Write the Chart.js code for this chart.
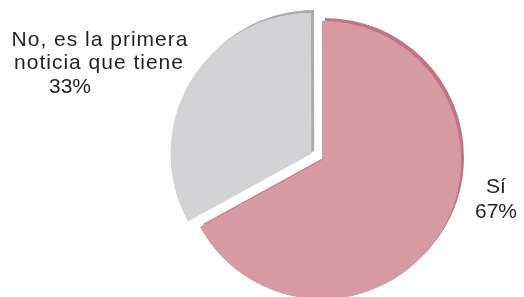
<!DOCTYPE html>
<html>
<head>
<meta charset="utf-8">
<script src="https://cdn.jsdelivr.net/npm/chart.js@4"></script>
<style>
  body { margin: 0; background: #fff; overflow: hidden; }
</style>
</head>
<body>
<canvas id="noticia" width="524" height="297"></canvas>
<script>
const categorias = ['Sí', 'No, es la primera noticia que tiene'];
const porcentajes = [67, 33];
// lineas de texto de cada etiqueta
const etiquetas = [['Sí', '67%'], ['No, es la primera', 'noticia que tiene', '33%']];
const colores = ['#d69ba2', '#d2d3d5'];
const bordes = ['#c27484', '#a9abae'];

// sombra oscura desplazada que imita el canto de la tarta
const cantoPlugin = {
    id: 'canto',
    beforeDatasetsDraw(chart) {
        const ctx = chart.ctx;
        chart.getDatasetMeta(0).data.forEach((arc, i) => {
            ctx.save();
            ctx.shadowColor = bordes[i];
            ctx.shadowOffsetX = 3;
            ctx.shadowOffsetY = -3;
            ctx.shadowBlur = 0;
            arc.draw(ctx);
            ctx.restore();
        });
    },
    afterDraw(chart) {
        const ctx = chart.ctx;
        const arc = chart.getDatasetMeta(0).data[0];
        const cx = arc.x, cy = arc.y;
        ctx.save();
        ctx.fillStyle = '#231f20';
        ctx.font = '21px "Liberation Sans", Arial, sans-serif';
        ctx.textAlign = 'center';
        ctx.textBaseline = 'alphabetic';
        // Sí
        ctx.fillText(etiquetas[0][0], cx + 174, cy + 33);
        ctx.fillText(etiquetas[0][1], cx + 174, cy + 58);
        // No
        ctx.letterSpacing = '1px';
        ctx.fillText(etiquetas[1][0], cx - 222, cy - 114);
        ctx.fillText(etiquetas[1][1], cx - 223, cy - 91);
        ctx.letterSpacing = '0px';
        ctx.fillText(etiquetas[1][2], cx - 252, cy - 67);
        ctx.restore();
    }
};

const ctx1 = document.getElementById('noticia').getContext('2d');
const noticia = new Chart(ctx1, {
    type: 'pie',
    data: {
        labels: categorias,
        datasets: [{
            data: porcentajes,
            backgroundColor: colores,
            borderWidth: 0,
            offset: [0, 50],
            radius: 139,
            clip: false
        }]
    },
    options: {
        responsive: false,
        animation: false,
        layout: { padding: { left: 120, top: 23 } },
        plugins: {
            legend: { display: false },
            tooltip: { enabled: false }
        }
    },
    plugins: [cantoPlugin]
});
</script>
</body>
</html>
